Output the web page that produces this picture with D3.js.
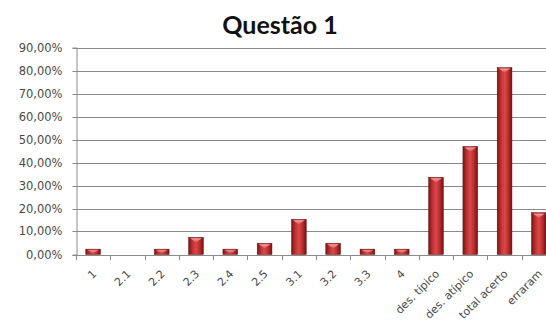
<!DOCTYPE html>
<html>
<head>
<meta charset="utf-8">
<script src="https://cdn.jsdelivr.net/npm/d3@7"></script>
<style>
  html, body { margin: 0; padding: 0; background: #fff; overflow: hidden; }
  svg { display: block; }
</style>
</head>
<body>
<svg id="chart" width="546" height="329"></svg>
<script>
// Percent of answers per item of question 1
const categories = ["1", "2.1", "2.2", "2.3", "2.4", "2.5", "3.1", "3.2", "3.3", "4",
                    "des. típico", "des. atípico", "total acerto", "erraram"];
const values = [2.33, 0, 2.33, 7.5, 2.33, 4.9, 15.3, 4.9, 2.33, 2.33, 33.6, 47.0, 81.3, 18.2];
const yTicks = [0, 10, 20, 30, 40, 50, 60, 70, 80, 90];
const title = "Questão 1";

const svg = d3.select("#chart");
const plotLeft = 76, plotRight = 556, plotTop = 47.5, plotBottom = 254.5;

const x = d3.scaleBand().domain(categories).range([plotLeft, plotRight]).paddingInner(0.57).paddingOuter(0.285);
const y = d3.scaleLinear().domain([0, 90]).range([plotBottom, plotTop]);

const fmt = v => d3.format(".2f")(v).replace(".", ",") + "%";

// Bar shading: darker edges, lighter centre
const defs = svg.append("defs");
const g1 = defs.append("linearGradient").attr("id", "barGrad").attr("x1", 0).attr("x2", 1).attr("y1", 0).attr("y2", 0);
[[0, "#7a1414"], [0.3, "#c63636"], [0.5, "#da4848"], [0.75, "#bb2c2c"], [1, "#701212"]]
  .forEach(([o, c]) => g1.append("stop").attr("offset", o).attr("stop-color", c));
const g2 = defs.append("linearGradient").attr("id", "capGrad").attr("x1", 0).attr("x2", 0).attr("y1", 0).attr("y2", 1);
[[0, "#f3a0a0"], [1, "#d85a5a"]]
  .forEach(([o, c]) => g2.append("stop").attr("offset", o).attr("stop-color", c));

// Title
svg.append("text")
  .attr("x", 280).attr("y", 34)
  .attr("text-anchor", "middle")
  .attr("font-family", "Lato, 'Open Sans', sans-serif")
  .attr("font-weight", "bold")
  .attr("font-size", 25)
  .attr("fill", "#111")
  .text(title);

// Gridlines
svg.append("g").selectAll("line").data(yTicks.slice(1)).join("line")
  .attr("x1", plotLeft).attr("x2", plotRight)
  .attr("y1", d => Math.round(y(d)) + 0.5).attr("y2", d => Math.round(y(d)) + 0.5)
  .attr("stroke", "#8a8a8a").attr("stroke-width", 1);

// Y axis
const yAxis = svg.append("g")
  .attr("transform", `translate(${plotLeft + 0.5},0)`)
  .call(d3.axisLeft(y).tickValues(yTicks).tickFormat(fmt).tickSize(4).tickPadding(10));
yAxis.select(".domain").attr("stroke", "#8a8a8a");
yAxis.selectAll(".tick line").attr("stroke", "#8a8a8a");
yAxis.selectAll(".tick").attr("transform", d => `translate(0,${Math.round(y(d)) + 0.5})`);
yAxis.selectAll("text")
  .attr("font-family", "'DejaVu Sans', sans-serif")
  .attr("font-size", 11.5)
  .attr("fill", "#4a4a4a");

// X axis baseline and tick marks between categories
const bx = svg.append("g");
bx.append("line")
  .attr("x1", plotLeft).attr("x2", plotRight)
  .attr("y1", Math.round(plotBottom) + 0.5).attr("y2", Math.round(plotBottom) + 0.5)
  .attr("stroke", "#8a8a8a");
const step = x.step();
bx.selectAll("line.tk").data(d3.range(categories.length + 1)).join("line")
  .attr("class", "tk")
  .attr("x1", i => Math.round(plotLeft + i * step) + 0.5)
  .attr("x2", i => Math.round(plotLeft + i * step) + 0.5)
  .attr("y1", Math.round(plotBottom) + 0.5).attr("y2", Math.round(plotBottom) + 5)
  .attr("stroke", "#8a8a8a");

// Bars
const data = categories.map((c, i) => ({ c, v: values[i] }));
const bars = svg.append("g").selectAll("g").data(data.filter(d => d.v > 0)).join("g");
bars.append("rect")
  .attr("x", d => x(d.c))
  .attr("y", d => y(d.v))
  .attr("width", x.bandwidth())
  .attr("height", d => y(0) - y(d.v))
  .attr("fill", "url(#barGrad)")
  .attr("stroke", "#6a1010").attr("stroke-width", 0.5);
// top cap highlight
bars.append("path")
  .attr("d", d => {
    const x0 = x(d.c) + 1.5, x1 = x(d.c) + x.bandwidth() - 1.5, yt = y(d.v) + 1;
    const h = Math.min(4, (y(0) - y(d.v)) / 2);
    const xm = (x0 + x1) / 2;
    return `M${x0},${yt}L${x1},${yt}L${xm},${yt + h}Z`;
  })
  .attr("fill", "url(#capGrad)");

// X labels, rotated
svg.append("g").selectAll("text").data(categories).join("text")
  .attr("transform", d => `translate(${x(d) + x.bandwidth() / 2 + 4},${plotBottom + 20}) rotate(-45)`)
  .attr("text-anchor", "end")
  .attr("font-family", "'DejaVu Sans', sans-serif")
  .attr("font-size", 11)
  .attr("fill", "#4a4a4a")
  .text(d => d);
</script>
</body>
</html>
